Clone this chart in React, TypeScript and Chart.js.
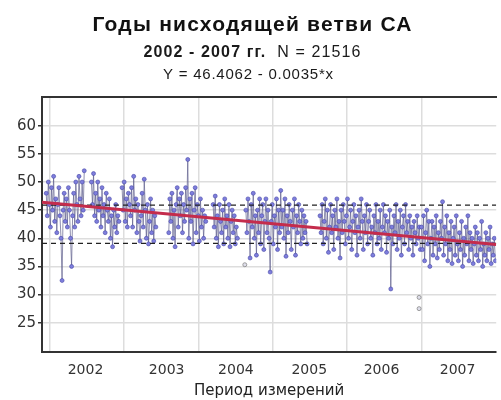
import React, { useEffect, useRef } from 'react';
import { Chart, registerables } from 'chart.js';
Chart.register(...registerables);

// ---- data (days since start of the series, sampled every STEP_DAYS) ----
const STEP_DAYS = 5;
const seg1Start = 20;
const seg1 = [
  48, 44, 50, 46, 42, 49, 45, 51, 43, 47,
  41, 46, 49, 44, 40, 32.5, 45, 48, 43, 47,
  42, 49, 45, 40, 35, 44, 48, 42, 50, 46,
  43, 51, 47, 44, 50, 45, 52,
];
const seg2Start = 234;
const seg2 = [
  50, 46, 51.5, 44, 48, 43, 50, 45, 47, 42,
  49, 44, 46, 41, 48, 45, 43, 47, 40, 44,
  38.5, 45, 42, 46, 41, 44, 43,
];
const seg3Start = 379;
const seg3 = [
  49, 45, 50, 43, 47, 42, 48, 46, 44, 49,
  42, 51, 45, 47, 41, 46, 43, 39.5, 44, 48,
  42, 50.5, 45, 40, 46, 39, 43, 47, 41, 45,
  39.5, 44, 42,
];
const seg4Start = 600;
const seg4 = [
  41, 47, 43, 48, 40, 45, 38.5, 46, 49, 42,
  47, 44, 48, 41, 46, 43, 49, 45, 54, 40,
  47, 43, 48, 39, 45, 49, 41, 46, 44, 39.5,
  47, 42, 45, 40, 44, 43,
];
const seg5Start = 810;
const seg5 = [
  46, 42, 47.5, 40, 44, 38.5, 46, 43, 41, 45,
  39, 47, 42, 44, 40, 46, 38.5, 43, 45, 41,
  44, 39, 42, 40,
];
const seg6Start = 965;
const seg6 = [
  45, 41, 47, 43, 36.5, 46, 42, 48, 40, 44,
  37, 45, 41, 47, 39, 44, 46, 38, 43, 47,
  41, 45, 40, 34, 43, 46, 39, 44, 42, 47,
  38, 45, 41, 48.5, 42, 45, 40, 47, 36.8, 44,
  41, 46, 43, 38, 45, 42, 47, 37, 44, 41,
  46, 43, 39, 45, 40, 44, 41, 43, 39,
];
const seg7Start = 1316;
const seg7 = [
  44, 41, 46, 39, 43, 47, 40, 45, 37.5, 42,
  46, 41, 44, 38, 45, 42, 47, 40, 43, 36.5,
  45, 41, 46, 43, 39, 44, 47, 40, 42, 45,
  38, 43, 46, 41, 44, 37, 42, 45, 40, 47,
  43, 38, 44, 41, 46, 39, 43, 45, 40, 42,
  37, 44, 41, 46, 39, 43, 40, 45, 38, 42,
  46, 41, 44, 37.5, 43, 40, 45, 31, 42, 39,
  44, 41, 46, 38, 43, 40, 45, 37, 42, 44,
  39, 46, 41, 43, 38, 44, 40, 42, 37, 43,
  41, 39, 44, 40, 42, 38,
];
const seg8Start = 1796;
const seg8 = [
  42, 38, 44, 36, 41, 45, 39, 43, 35, 40,
  43, 37, 42, 39, 44, 36.5, 41, 38, 43, 40,
  46.5, 37, 42, 39, 44, 36, 41, 38, 43, 35.5,
  40, 42, 37, 44, 39, 36, 41, 38, 43, 35,
  40, 37, 42, 39, 44, 36, 41, 38, 40, 35.5,
  39, 42, 37, 41, 36, 40, 38, 43, 35, 39,
  37, 41, 36, 40, 38, 42, 35.5, 39, 37, 40,
  36,
];
const outlierDays = [1785, 1785, 960];
const outlierValues = [29.5, 27.5, 35.3];

const regIntercept = 46.4062;
const regSlope = -0.0035;
const xRange = [0, 2150];
const dashUpper = 45.9;
const dashLower = 39.1;

const yearLabels = ['2002', '2003', '2004', '2005', '2006', '2007'];
const yearLabelDays = [206, 590, 918, 1265, 1607, 1967];
const yearGridDays = [37, 389, 740, 1091, 1443, 1799];
const yTicks = [25, 30, 35, 40, 45, 50, 55, 60];

const TITLE = 'Годы нисходящей ветви СА';
const SUB_BOLD = '2002 - 2007 гг.';
const SUB_NORMAL = '  N = 21516';
const FORMULA = 'Y = 46.4062 - 0.0035*x';
const X_TITLE = 'Период измерений';

const segments = [
  { start: seg1Start, values: seg1 },
  { start: seg2Start, values: seg2 },
  { start: seg3Start, values: seg3 },
  { start: seg4Start, values: seg4 },
  { start: seg5Start, values: seg5 },
  { start: seg6Start, values: seg6 },
  { start: seg7Start, values: seg7 },
  { start: seg8Start, values: seg8 },
];

function buildSeries() {
  const pts: { x: number; y: number | null }[] = [];
  segments.forEach((s, si) => {
    s.values.forEach((v, i) => pts.push({ x: s.start + i * STEP_DAYS, y: v }));
    if (si < segments.length - 1) pts.push({ x: s.start + s.values.length * STEP_DAYS, y: null });
  });
  return pts;
}

function drawFitted(ctx: CanvasRenderingContext2D, parts: { text: string; font: string }[], cx: number, baseline: number, target: number) {
  ctx.letterSpacing = '0px';
  let total = 0;
  let chars = 0;
  parts.forEach((p) => {
    ctx.font = p.font;
    total += ctx.measureText(p.text).width;
    chars += p.text.length;
  });
  const sp = chars > 1 ? (target - total) / (chars - 1) : 0;
  let x = cx - target / 2;
  ctx.textAlign = 'left';
  ctx.textBaseline = 'alphabetic';
  parts.forEach((p) => {
    ctx.font = p.font;
    ctx.letterSpacing = sp + 'px';
    ctx.fillText(p.text, x, baseline);
    x += ctx.measureText(p.text).width;
  });
  ctx.letterSpacing = '0px';
}

const titlePlugin = {
  id: 'titles',
  afterDraw(chart: any) {
    const ctx = chart.ctx as CanvasRenderingContext2D;
    ctx.save();
    ctx.fillStyle = '#111';
    drawFitted(ctx, [{ text: TITLE, font: 'bold 21px "Liberation Sans"' }], 252, 31, 319);
    ctx.fillStyle = '#1a1a1a';
    drawFitted(ctx, [
      { text: SUB_BOLD, font: 'bold 16px "Liberation Sans"' },
      { text: SUB_NORMAL, font: '16px "Liberation Sans"' },
    ], 252, 57, 217);
    drawFitted(ctx, [{ text: FORMULA, font: '15px "Liberation Sans"' }], 248, 79, 170);
    ctx.restore();
  },
};

export default function App() {
  const ref = useRef<HTMLCanvasElement | null>(null);
  useEffect(() => {
    if (!ref.current) return;
    const series = buildSeries();
    const chart = new Chart(ref.current, {
      type: 'line',
      data: {
        datasets: [
          {
            label: 'regression',
            data: xRange.map((d) => ({ x: d, y: regIntercept + regSlope * d })),
            borderColor: '#c42c4c',
            borderWidth: 3,
            pointRadius: 0,
          },
          {
            label: 'upper',
            data: xRange.map((d) => ({ x: d, y: dashUpper })),
            borderColor: '#222',
            borderWidth: 1.2,
            borderDash: [5, 4],
            pointRadius: 0,
          },
          {
            label: 'lower',
            data: xRange.map((d) => ({ x: d, y: dashLower })),
            borderColor: '#222',
            borderWidth: 1.2,
            borderDash: [5, 4],
            pointRadius: 0,
          },
          {
            label: 'outliers',
            data: outlierDays.map((d, i) => ({ x: d, y: outlierValues[i] })),
            showLine: false,
            pointRadius: 2,
            pointBorderWidth: 0.8,
            pointBackgroundColor: 'rgba(200,200,220,0.6)',
            pointBorderColor: '#888',
          },
          {
            label: 'values',
            data: series,
            spanGaps: false,
            borderColor: '#5e5e8c',
            borderWidth: 0.7,
            pointRadius: 2,
            pointBorderWidth: 0.6,
            pointBackgroundColor: '#7e7edc',
            pointBorderColor: '#4848a8',
          },
        ],
      },
      options: {
        animation: false,
        responsive: false,
        maintainAspectRatio: false,
        layout: { padding: { top: 97, left: 0, right: 0, bottom: 0 } },
        plugins: { legend: { display: false }, tooltip: { enabled: false }, title: { display: false } },
        scales: {
          x: {
            type: 'linear',
            position: 'bottom',
            min: xRange[0],
            max: xRange[1],
            afterBuildTicks: (s: any) => { s.ticks = yearGridDays.map((v) => ({ value: v })); },
            afterFit: (s: any) => { s.height = 0; },
            ticks: { display: false },
            grid: { color: '#dddddd', lineWidth: 1.5, drawTicks: false },
            border: { display: true, color: '#333', width: 2 },
          },
          xl: {
            type: 'linear',
            position: 'bottom',
            min: xRange[0],
            max: xRange[1],
            afterBuildTicks: (s: any) => { s.ticks = yearLabelDays.map((v) => ({ value: v })); },
            afterFit: (s: any) => { s.height = 48; },
            ticks: {
              autoSkip: false,
              maxRotation: 0,
              padding: 2,
              color: '#333',
              font: { family: 'DejaVu Sans', size: 14 },
              callback: (v: any) => {
                const i = yearLabelDays.indexOf(Number(v));
                return i >= 0 ? yearLabels[i] : '';
              },
            },
            grid: { display: false },
            border: { display: false },
            title: {
              display: true,
              text: X_TITLE,
              color: '#222',
              font: { family: 'DejaVu Sans', size: 15 },
              padding: { top: 0, bottom: 0 },
            },
          },
          xt: {
            type: 'linear',
            position: 'top',
            min: xRange[0],
            max: xRange[1],
            afterFit: (s: any) => { s.height = 0; },
            ticks: { display: false },
            grid: { display: false },
            border: { display: true, color: '#333', width: 2 },
          },
          y: {
            type: 'linear',
            min: 19.8,
            max: 65.1,
            afterBuildTicks: (s: any) => { s.ticks = yTicks.map((v) => ({ value: v })); },
            afterFit: (s: any) => { s.width = 42; },
            ticks: {
              padding: 2,
              color: '#333',
              font: { family: 'DejaVu Sans', size: 15 },
            },
            grid: { color: '#dddddd', lineWidth: 1.5, tickLength: 4, tickColor: '#333' },
            border: { display: true, color: '#333', width: 2 },
          },
        },
      },
      plugins: [titlePlugin],
    });
    return () => chart.destroy();
  }, []);
  return (
    <div style={{ position: 'fixed', left: 0, top: 0, width: 501, height: 400, background: '#fff' }}>
      <canvas ref={ref} width={501} height={400} style={{ display: 'block' }} />
    </div>
  );
}
